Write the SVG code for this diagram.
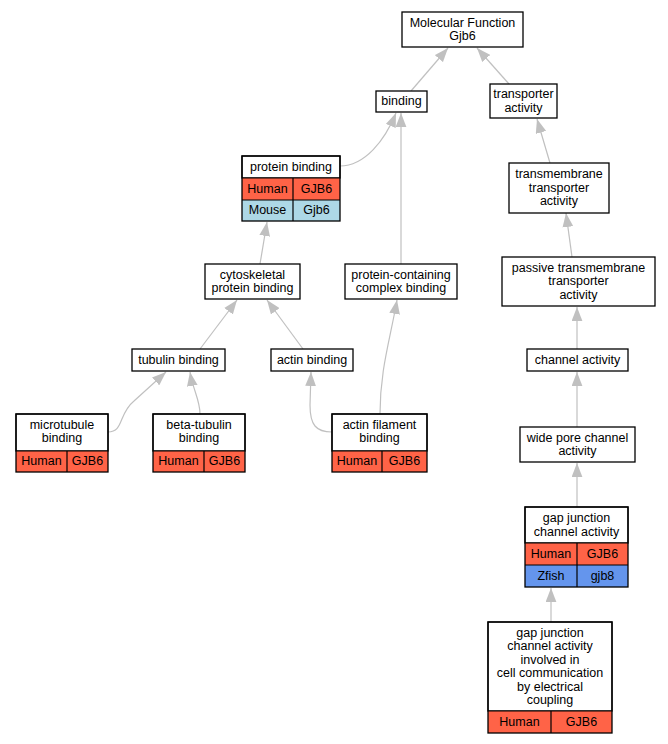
<svg xmlns="http://www.w3.org/2000/svg" width="668" height="744" viewBox="0 0 668 744">
<style>
.b{fill:#fff;stroke:#000;stroke-width:1.3}
.o{fill:none;stroke:#000;stroke-width:1.3}
.d{stroke:#000;stroke-width:1.2}
.h{fill:#ff6347}
.m{fill:#add8e6}
.z{fill:#6495ed}
text{font-family:"Liberation Sans",Arial,sans-serif;font-size:12.5px;text-anchor:middle;fill:#000}
.e path{fill:none;stroke:#c0c0c0;stroke-width:1.2}
</style>
<defs>
<marker id="a" markerUnits="userSpaceOnUse" markerWidth="14" markerHeight="11" viewBox="0 0 13 10" refX="13" refY="5" orient="auto">
<path d="M0,0 L13,5 L0,10 z" fill="#c0c0c0"/>
</marker>
</defs>
<rect width="668" height="744" fill="#fff"/>
<g class="e" id="edges">
<path d="M411,91 L448,48" marker-end="url(#a)"/>
<path d="M509,84 L477,48" marker-end="url(#a)"/>
<path d="M340,166 C365,166 385,140 396,113" marker-end="url(#a)"/>
<path d="M401,264 L401,113" marker-end="url(#a)"/>
<path d="M550,163 L537,119" marker-end="url(#a)"/>
<path d="M572,257 L566,213" marker-end="url(#a)"/>
<path d="M577,349 L577,307" marker-end="url(#a)"/>
<path d="M577,427 L577,372" marker-end="url(#a)"/>
<path d="M577,507 L577,463" marker-end="url(#a)"/>
<path d="M551,622 L551,588" marker-end="url(#a)"/>
<path d="M260,264 L267,222" marker-end="url(#a)"/>
<path d="M200,349 L237,300" marker-end="url(#a)"/>
<path d="M303,349 L267,300" marker-end="url(#a)"/>
<path d="M380,414 C380,370 390,340 397,300" marker-end="url(#a)"/>
<path d="M332,432 C316,432 310,425 310,405 L311,372" marker-end="url(#a)"/>
<path d="M108,432 C124,432 118,414 134,401 L166,372" marker-end="url(#a)"/>
<path d="M200,414 C200,400 193,390 190,372" marker-end="url(#a)"/>
</g>
<g id="n_mf">
<rect class="b" x="402" y="12" width="121" height="35"/>
<text x="462.5" y="26.5">Molecular Function</text>
<text x="462.5" y="40">Gjb6</text>
</g>
<g id="n_binding">
<rect class="b" x="376" y="91" width="51" height="21"/>
<text x="401.5" y="105.3">binding</text>
</g>
<g id="n_transporter">
<rect class="b" x="490" y="84" width="67" height="34"/>
<text x="523.5" y="98">transporter</text>
<text x="523.5" y="111.5">activity</text>
</g>
<g id="n_protein_binding">
<rect class="b" x="242" y="156" width="98" height="22"/>
<rect class="h" x="242" y="178" width="98" height="22"/>
<rect class="m" x="242" y="200" width="98" height="21"/>
<line class="d" x1="242" y1="178" x2="340" y2="178"/>
<line class="d" x1="242" y1="200" x2="340" y2="200"/>
<line class="d" x1="293" y1="178" x2="293" y2="221"/>
<rect class="o" x="242" y="156" width="98" height="65"/>
<text x="291" y="170.8">protein binding</text>
<text x="267.5" y="192.8">Human</text>
<text x="316.5" y="192.8">GJB6</text>
<text x="267.5" y="214.3">Mouse</text>
<text x="316.5" y="214.3">Gjb6</text>
</g>
<g id="n_transmembrane">
<rect class="b" x="509" y="163" width="100" height="50"/>
<text x="559" y="178.3">transmembrane</text>
<text x="559" y="191.8">transporter</text>
<text x="559" y="205.3">activity</text>
</g>
<g id="n_cytoskeletal">
<rect class="b" x="205" y="264" width="95" height="35"/>
<text x="252.5" y="278.5">cytoskeletal</text>
<text x="252.5" y="292">protein binding</text>
</g>
<g id="n_complex">
<rect class="b" x="345" y="264" width="112" height="35"/>
<text x="401" y="278.5">protein-containing</text>
<text x="401" y="292">complex binding</text>
</g>
<g id="n_passive">
<rect class="b" x="502" y="257" width="153" height="49"/>
<text x="578.5" y="271.8">passive transmembrane</text>
<text x="578.5" y="285.3">transporter</text>
<text x="578.5" y="298.8">activity</text>
</g>
<g id="n_tubulin">
<rect class="b" x="132" y="349" width="93" height="22"/>
<text x="178.5" y="363.8">tubulin binding</text>
</g>
<g id="n_actin">
<rect class="b" x="271" y="349" width="82" height="22"/>
<text x="312" y="363.8">actin binding</text>
</g>
<g id="n_channel">
<rect class="b" x="527" y="349" width="101" height="22"/>
<text x="577.5" y="363.8">channel activity</text>
</g>
<g id="n_microtubule">
<rect class="b" x="16" y="414" width="92" height="37"/>
<rect class="h" x="16" y="451" width="92" height="21"/>
<line class="d" x1="16" y1="451" x2="108" y2="451"/>
<line class="d" x1="67" y1="451" x2="67" y2="472"/>
<rect class="o" x="16" y="414" width="92" height="58"/>
<text x="62" y="428.9">microtubule</text>
<text x="62" y="442.4">binding</text>
<text x="41.5" y="465.3">Human</text>
<text x="87.5" y="465.3">GJB6</text>
</g>
<g id="n_beta">
<rect class="b" x="153" y="414" width="92" height="37"/>
<rect class="h" x="153" y="451" width="92" height="21"/>
<line class="d" x1="153" y1="451" x2="245" y2="451"/>
<line class="d" x1="204" y1="451" x2="204" y2="472"/>
<rect class="o" x="153" y="414" width="92" height="58"/>
<text x="199" y="428.9">beta-tubulin</text>
<text x="199" y="442.4">binding</text>
<text x="178.5" y="465.3">Human</text>
<text x="224.5" y="465.3">GJB6</text>
</g>
<g id="n_actin_filament">
<rect class="b" x="332" y="414" width="95" height="37"/>
<rect class="h" x="332" y="451" width="95" height="21"/>
<line class="d" x1="332" y1="451" x2="427" y2="451"/>
<line class="d" x1="382" y1="451" x2="382" y2="472"/>
<rect class="o" x="332" y="414" width="95" height="58"/>
<text x="379.5" y="428.9">actin filament</text>
<text x="379.5" y="442.4">binding</text>
<text x="357" y="465.3">Human</text>
<text x="404.5" y="465.3">GJB6</text>
</g>
<g id="n_wide_pore">
<rect class="b" x="520" y="427" width="115" height="35"/>
<text x="577.5" y="441.5">wide pore channel</text>
<text x="577.5" y="455">activity</text>
</g>
<g id="n_gap">
<rect class="b" x="525" y="507" width="103" height="36"/>
<rect class="h" x="525" y="543" width="103" height="22"/>
<rect class="z" x="525" y="565" width="103" height="22"/>
<line class="d" x1="525" y1="543" x2="628" y2="543"/>
<line class="d" x1="525" y1="565" x2="628" y2="565"/>
<line class="d" x1="577" y1="543" x2="577" y2="587"/>
<rect class="o" x="525" y="507" width="103" height="80"/>
<text x="576.5" y="522">gap junction</text>
<text x="576.5" y="535.5">channel activity</text>
<text x="551" y="557.8">Human</text>
<text x="602.5" y="557.8">GJB6</text>
<text x="551" y="579.8">Zfish</text>
<text x="602.5" y="579.8">gjb8</text>
</g>
<g id="n_coupling">
<rect class="b" x="488" y="622" width="124" height="89"/>
<rect class="h" x="488" y="711" width="124" height="22"/>
<line class="d" x1="488" y1="711" x2="612" y2="711"/>
<line class="d" x1="551" y1="711" x2="551" y2="733"/>
<rect class="o" x="488" y="622" width="124" height="111"/>
<text x="550" y="636.5">gap junction</text>
<text x="550" y="650">channel activity</text>
<text x="550" y="663.5">involved in</text>
<text x="550" y="677">cell communication</text>
<text x="550" y="690.5">by electrical</text>
<text x="550" y="704">coupling</text>
<text x="519.5" y="725.8">Human</text>
<text x="581.5" y="725.8">GJB6</text>
</g>
</svg>
